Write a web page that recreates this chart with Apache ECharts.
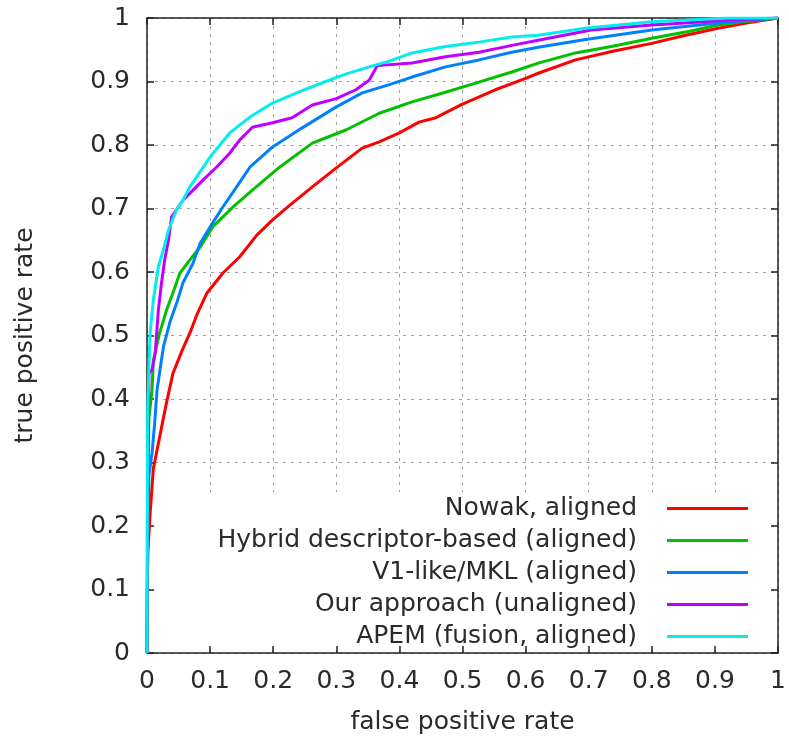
<!DOCTYPE html>
<html><head><meta charset="utf-8">
<script src="https://cdn.jsdelivr.net/npm/echarts@6/dist/echarts.min.js"></script>
<style>html,body{margin:0;padding:0;background:#fff}#c{width:789px;height:740px}</style>
</head><body><div id="c"></div>
<script>
const seriesNames = ["Nowak, aligned","Hybrid descriptor-based (aligned)","V1-like/MKL (aligned)","Our approach (unaligned)","APEM (fusion, aligned)"];
const seriesColors = ["#ff0000","#00c000","#0080ff","#c000ff","#00eeee"];
const axisTicks = [0,0.1,0.2,0.3,0.4,0.5,0.6,0.7,0.8,0.9,1];

const nowakX = [0,0.001,0.005,0.01,0.02,0.03,0.041,0.055,0.068,0.08,0.095,0.12,0.147,0.174,0.199,0.226,0.262,0.30,0.341,0.368,0.40,0.431,0.458,0.499,0.552,0.60,0.62,0.679,0.74,0.80,0.85,0.905,0.95,1.0];
const nowakY = [0,0.155,0.22,0.29,0.34,0.39,0.44,0.475,0.504,0.535,0.567,0.598,0.624,0.658,0.682,0.705,0.734,0.764,0.795,0.805,0.819,0.836,0.843,0.864,0.887,0.905,0.913,0.934,0.948,0.96,0.972,0.984,0.992,1.0];

const hybridX = [0,0.001,0.003,0.008,0.01,0.02,0.031,0.041,0.052,0.068,0.084,0.104,0.136,0.167,0.21,0.262,0.316,0.368,0.42,0.473,0.526,0.578,0.62,0.679,0.74,0.80,0.86,0.905,0.95,1.0];
const hybridY = [0,0.29,0.37,0.414,0.46,0.504,0.54,0.567,0.598,0.619,0.639,0.671,0.702,0.729,0.765,0.803,0.824,0.85,0.868,0.883,0.899,0.915,0.929,0.945,0.956,0.968,0.979,0.989,0.995,1.0];

const v1X = [0,0.001,0.003,0.008,0.012,0.016,0.026,0.036,0.047,0.057,0.073,0.084,0.1,0.12,0.142,0.163,0.199,0.246,0.30,0.341,0.384,0.42,0.473,0.526,0.578,0.62,0.695,0.80,0.905,0.96,1.0];
const v1Y = [0,0.16,0.28,0.315,0.36,0.415,0.482,0.52,0.551,0.583,0.614,0.645,0.671,0.702,0.734,0.765,0.797,0.827,0.86,0.882,0.895,0.907,0.923,0.934,0.946,0.954,0.966,0.981,0.992,0.997,1.0];

const oursX = [0,0.003,0.008,0.013,0.018,0.023,0.028,0.034,0.039,0.057,0.073,0.089,0.11,0.131,0.147,0.167,0.199,0.23,0.262,0.30,0.331,0.352,0.365,0.42,0.473,0.526,0.594,0.62,0.704,0.80,0.852,0.92,1.0];
const oursY = [0,0.44,0.446,0.472,0.54,0.583,0.619,0.65,0.687,0.713,0.729,0.745,0.765,0.787,0.808,0.828,0.835,0.843,0.863,0.873,0.887,0.902,0.925,0.929,0.939,0.946,0.96,0.965,0.981,0.989,0.992,0.997,1.0];

const apemX = [0,0.001,0.003,0.005,0.01,0.018,0.026,0.034,0.047,0.057,0.068,0.1,0.131,0.163,0.199,0.237,0.278,0.316,0.352,0.384,0.42,0.473,0.526,0.578,0.62,0.695,0.80,0.92,1.0];
const apemY = [0,0.38,0.45,0.504,0.556,0.608,0.635,0.666,0.698,0.713,0.734,0.781,0.819,0.844,0.866,0.882,0.898,0.912,0.923,0.932,0.945,0.955,0.962,0.97,0.973,0.984,0.994,1.0,1.0];

const allX = [nowakX, hybridX, v1X, oursX, apemX];
const allY = [nowakY, hybridY, v1Y, oursY, apemY];

const FONT = "DejaVu Sans";
const FS = 25;
const TXT = '#2a2a2a';
const chart = echarts.init(document.getElementById('c'), null, {renderer:'canvas'});

function pair(xs, ys){ return xs.map((x,i)=>[x, ys[i]]); }

const gridLine = {show:true, lineStyle:{color:'#a0a0a0', type:[3,5], width:1}};
const frameLine = {show:true, onZero:false, lineStyle:{color:'#222', width:1.5}};
const tickIn = {show:true, inside:true, length:7, lineStyle:{color:'#222', width:1.5}};

const option = {
  animation:false,
  backgroundColor:'#fff',
  grid:{left:147, right:8, top:18, bottom:87, containLabel:false},
  xAxis:[
    {type:'value', min:0, max:1, interval:0.1, position:'bottom',
     name:'false positive rate', nameLocation:'middle', nameGap:57,
     nameTextStyle:{fontFamily:FONT, fontSize:FS, color:TXT},
     axisLine:frameLine, axisTick:tickIn, splitLine:gridLine,
     axisLabel:{fontFamily:FONT, fontSize:FS, color:TXT, margin:16,
       formatter:v=>String(Math.round(v*10)/10)}},
    {type:'value', min:0, max:1, interval:0.1, position:'top',
     axisLine:frameLine, axisTick:tickIn, splitLine:{show:false}, axisLabel:{show:false}}
  ],
  yAxis:[
    {type:'value', min:0, max:1, interval:0.1, position:'left',
     name:'true positive rate', nameLocation:'middle', nameGap:109, nameRotate:90,
     nameTextStyle:{fontFamily:FONT, fontSize:FS, color:TXT},
     axisLine:frameLine, axisTick:tickIn, splitLine:gridLine,
     axisLabel:{fontFamily:FONT, fontSize:FS, color:TXT, margin:17,
       formatter:v=>String(Math.round(v*10)/10)}},
    {type:'value', min:0, max:1, interval:0.1, position:'right',
     axisLine:frameLine, axisTick:tickIn, splitLine:{show:false}, axisLabel:{show:false}}
  ],
  legend:{
    orient:'vertical', align:'right', right:41, top:496, padding:0,
    itemWidth:81, itemHeight:3, itemGap:7, icon:'rect',
    textStyle:{fontFamily:FONT, fontSize:FS, color:TXT, lineHeight:24, padding:[0,25,0,0]},
    data:seriesNames
  },
  series: seriesNames.map((n,i)=>({
    name:n, type:'line', xAxisIndex:0, yAxisIndex:0,
    data:pair(allX[i], allY[i]), showSymbol:false, symbol:'none',
    lineStyle:{color:seriesColors[i], width:3}, itemStyle:{color:seriesColors[i]},
    z:2+i
  }))
};
chart.setOption(option);

// blank the grid behind the key, as in the source plot
const p0 = chart.convertToPixel({xAxisIndex:0, yAxisIndex:0}, [0, 0.253]);
const p1 = chart.convertToPixel({xAxisIndex:0, yAxisIndex:0}, [1, 0]);
chart.setOption({graphic:[{type:'rect', z:1, silent:true,
  shape:{x:p0[0]+8, y:p0[1], width:(p1[0]-p0[0])-16, height:(p1[1]-p0[1])-8},
  style:{fill:'#fff'}}]});
</script></body></html>
